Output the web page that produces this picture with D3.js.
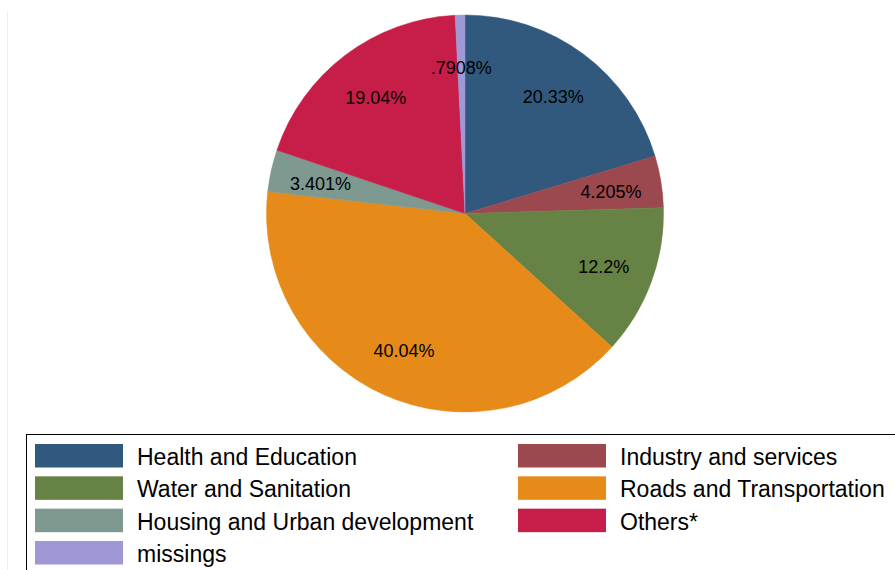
<!DOCTYPE html>
<html>
<head>
<meta charset="utf-8">
<script src="https://cdn.jsdelivr.net/npm/d3@7"></script>
<style>
  body { margin: 0; background: #fff; }
  svg { display: block; font-family: "Liberation Sans", Arial, sans-serif; }
</style>
</head>
<body>
<div id="chart"></div>
<script>
var categories = ["Health and Education", "Industry and services", "Water and Sanitation",
  "Roads and Transportation", "Housing and Urban development", "Others*", "missings"]
var shares = [20.33, 4.205, 12.2, 40.04, 3.401, 19.04, 0.7908]
var sliceLabels = ["20.33%", "4.205%", "12.2%", "40.04%", "3.401%", "19.04%", ".7908%"]
var colors = ["#31597d", "#9b494f", "#668244", "#e68b19", "#7d9990", "#c71e49", "#9e99d6"]
// legend reads across in two columns
var legendOrder = [0, 1, 2, 3, 4, 5, 6]

var widthSvg = 895
var heightSvg = 570
var center = { x: 465, y: 213.5 }
var radius = 198.5

var svg = d3.select("#chart").append("svg")
  .attr("width", widthSvg)
  .attr("height", heightSvg)

// faint plot region edge
svg.append("line")
  .attr("x1", 7.5).attr("x2", 7.5)
  .attr("y1", 11).attr("y2", heightSvg)
  .attr("stroke", "#eeeeee")
  .attr("stroke-width", 1)

var data = shares.map(function(v, i) {
  return { name: categories[i], value: v, label: sliceLabels[i], color: colors[i] }
})

var pie = d3.pie()
  .sort(null)
  .value(function(d) { return d.value })

var arc = d3.arc().innerRadius(0).outerRadius(radius)
var labelArc = d3.arc().innerRadius(148).outerRadius(148)

var pieG = svg.append("g")
  .attr("transform", "translate(" + center.x + "," + center.y + ")")

var arcs = pie(data)

pieG.selectAll(".slice")
  .data(arcs)
  .enter().append("path")
  .attr("class", "slice")
  .attr("d", arc)
  .attr("fill", function(d) { return d.data.color })
  .attr("stroke", function(d) { return d.data.color })
  .attr("stroke-width", 0.5)

pieG.selectAll(".sliceLabel")
  .data(arcs)
  .enter().append("text")
  .attr("class", "sliceLabel")
  .attr("x", function(d) { return labelArc.centroid(d)[0] })
  .attr("y", function(d) { return labelArc.centroid(d)[1] + 8.5 })
  .attr("text-anchor", "middle")
  .attr("font-size", 18)
  .attr("fill", "#000")
  .text(function(d) { return d.data.label })

// legend
var legendG = svg.append("g").attr("class", "legend")

legendG.append("rect")
  .attr("x", 26.5).attr("y", 434.5)
  .attr("width", 900).attr("height", 200)
  .attr("fill", "#fff")
  .attr("stroke", "#000")
  .attr("stroke-width", 1)

var colX = [35, 518]
var rowY = d3.scaleLinear().domain([0, 1]).range([444, 476.33])

var items = legendG.selectAll(".item")
  .data(legendOrder.map(function(i) { return data[i] }))
  .enter().append("g")
  .attr("class", "item")
  .attr("transform", function(d, i) {
    return "translate(" + colX[i % 2] + "," + rowY(Math.floor(i / 2)) + ")"
  })

items.append("rect")
  .attr("width", 88).attr("height", 23.5)
  .attr("fill", function(d) { return d.color })

items.append("text")
  .attr("x", 102)
  .attr("y", 21)
  .attr("font-size", 23)
  .attr("fill", "#000")
  .text(function(d) { return d.name })
</script>
</body>
</html>
